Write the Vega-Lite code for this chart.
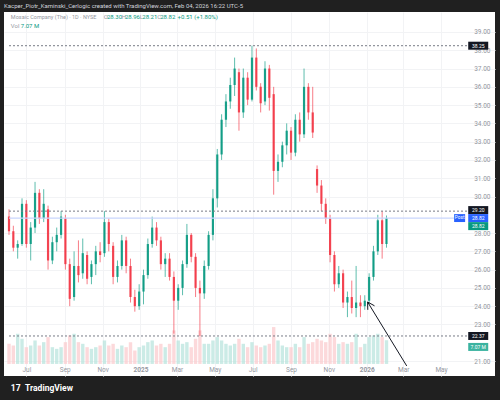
{
  "$schema": "https://vega.github.io/schema/vega-lite/v6.json",
  "width": 491,
  "height": 364,
  "autosize": {"type": "none"},
  "padding": {"left": 4, "top": 12, "right": 5, "bottom": 24},
  "background": "#202020",
  "config": {"view": {"fill": "#ffffff", "stroke": null}, "font": "Roboto", "axis": {"labelOverlap": false, "labelSeparation": 0}},
  "title": {"text": "Kacper_Piotr_Kaminski_Cerlogic created with TradingView.com, Feb 04, 2026 16:22 UTC-5", "anchor": "start", "frame": "group", "fontSize": 6, "fontWeight": "normal", "color": "#d1d4dc", "offset": 3, "font": "Roboto"},
  "datasets": {
    "ohlc": [
      {"d": "2024-06-03", "o": 28.9, "h": 29.3, "l": 27.9, "c": 28.1, "v": 6},
      {"d": "2024-06-10", "o": 28.1, "h": 28.4, "l": 27.0, "c": 27.2, "v": 5.5},
      {"d": "2024-06-17", "o": 27.2, "h": 27.6, "l": 26.6, "c": 27.4, "v": 9},
      {"d": "2024-06-24", "o": 27.4, "h": 29.9, "l": 27.3, "c": 29.6, "v": 7.5},
      {"d": "2024-07-01", "o": 29.6, "h": 29.8, "l": 27.2, "c": 27.4, "v": 5},
      {"d": "2024-07-08", "o": 27.4, "h": 28.6, "l": 26.5, "c": 28.3, "v": 5.5},
      {"d": "2024-07-15", "o": 28.3, "h": 30.8, "l": 28.0, "c": 30.2, "v": 7},
      {"d": "2024-07-22", "o": 30.2, "h": 30.4, "l": 28.5, "c": 28.8, "v": 5.5},
      {"d": "2024-07-29", "o": 28.8, "h": 30.4, "l": 28.6, "c": 29.6, "v": 6.5},
      {"d": "2024-08-05", "o": 29.3, "h": 29.5, "l": 26.0, "c": 26.5, "v": 8},
      {"d": "2024-08-12", "o": 26.5, "h": 27.8, "l": 26.3, "c": 27.5, "v": 5},
      {"d": "2024-08-19", "o": 27.5, "h": 28.3, "l": 27.0, "c": 27.9, "v": 4.5},
      {"d": "2024-08-26", "o": 27.9, "h": 29.2, "l": 27.7, "c": 28.9, "v": 5},
      {"d": "2024-09-02", "o": 28.8, "h": 29.0, "l": 26.0, "c": 26.3, "v": 6.5},
      {"d": "2024-09-09", "o": 26.3, "h": 26.6, "l": 24.0, "c": 24.4, "v": 8.5},
      {"d": "2024-09-16", "o": 24.5, "h": 27.0, "l": 24.3, "c": 26.2, "v": 9},
      {"d": "2024-09-23", "o": 26.2, "h": 27.6, "l": 25.3, "c": 25.7, "v": 6.5},
      {"d": "2024-09-30", "o": 25.8, "h": 27.7, "l": 25.5, "c": 26.9, "v": 6},
      {"d": "2024-10-07", "o": 26.8, "h": 27.0, "l": 25.2, "c": 25.5, "v": 5},
      {"d": "2024-10-14", "o": 25.6, "h": 26.5, "l": 25.2, "c": 26.3, "v": 4.5},
      {"d": "2024-10-21", "o": 26.3, "h": 27.3, "l": 25.7, "c": 27.0, "v": 5},
      {"d": "2024-10-28", "o": 27.0, "h": 27.5, "l": 26.4, "c": 26.8, "v": 5.5},
      {"d": "2024-11-04", "o": 26.9, "h": 29.2, "l": 26.7, "c": 28.6, "v": 7},
      {"d": "2024-11-11", "o": 28.6, "h": 28.8, "l": 27.0, "c": 27.4, "v": 5.5},
      {"d": "2024-11-18", "o": 27.3, "h": 27.5, "l": 25.2, "c": 25.6, "v": 6},
      {"d": "2024-11-25", "o": 25.6, "h": 26.5, "l": 25.3, "c": 26.2, "v": 4.5},
      {"d": "2024-12-02", "o": 26.2, "h": 27.9, "l": 26.0, "c": 27.6, "v": 5.5},
      {"d": "2024-12-09", "o": 27.6, "h": 27.8, "l": 25.8, "c": 26.2, "v": 5},
      {"d": "2024-12-16", "o": 26.2, "h": 26.6, "l": 24.2, "c": 24.5, "v": 6.5},
      {"d": "2024-12-23", "o": 24.5, "h": 24.9, "l": 23.7, "c": 24.0, "v": 4},
      {"d": "2024-12-30", "o": 24.0, "h": 25.2, "l": 23.8, "c": 24.8, "v": 5},
      {"d": "2025-01-06", "o": 24.8, "h": 26.0, "l": 24.1, "c": 25.7, "v": 5.5},
      {"d": "2025-01-13", "o": 25.7, "h": 27.7, "l": 25.5, "c": 27.4, "v": 6.5},
      {"d": "2025-01-20", "o": 27.4, "h": 28.9, "l": 27.2, "c": 28.3, "v": 7},
      {"d": "2025-01-27", "o": 28.3, "h": 28.6, "l": 27.3, "c": 27.6, "v": 5.5},
      {"d": "2025-02-03", "o": 27.6, "h": 27.8, "l": 26.0, "c": 26.3, "v": 6},
      {"d": "2025-02-10", "o": 26.3, "h": 26.9, "l": 25.6, "c": 26.6, "v": 5},
      {"d": "2025-02-17", "o": 26.6, "h": 26.9, "l": 25.4, "c": 25.6, "v": 6},
      {"d": "2025-02-24", "o": 25.6, "h": 25.9, "l": 22.5, "c": 24.3, "v": 10},
      {"d": "2025-03-03", "o": 24.3, "h": 25.2, "l": 23.8, "c": 25.0, "v": 7},
      {"d": "2025-03-10", "o": 25.0, "h": 26.5, "l": 24.6, "c": 26.3, "v": 6},
      {"d": "2025-03-17", "o": 26.3, "h": 28.5, "l": 26.1, "c": 27.9, "v": 6.5},
      {"d": "2025-03-24", "o": 27.9, "h": 28.0, "l": 26.4, "c": 26.7, "v": 5},
      {"d": "2025-03-31", "o": 26.7, "h": 26.9, "l": 24.5, "c": 25.0, "v": 7.5},
      {"d": "2025-04-07", "o": 25.0, "h": 25.4, "l": 22.37, "c": 24.7, "v": 10},
      {"d": "2025-04-14", "o": 24.7, "h": 26.5, "l": 24.4, "c": 26.2, "v": 6},
      {"d": "2025-04-21", "o": 26.2, "h": 28.1, "l": 26.0, "c": 27.9, "v": 6},
      {"d": "2025-04-28", "o": 27.9, "h": 30.4, "l": 27.6, "c": 29.9, "v": 7},
      {"d": "2025-05-05", "o": 29.9, "h": 32.6, "l": 29.4, "c": 32.3, "v": 8},
      {"d": "2025-05-12", "o": 32.3, "h": 34.5, "l": 32.0, "c": 34.2, "v": 7},
      {"d": "2025-05-19", "o": 34.2, "h": 35.6, "l": 33.8, "c": 35.2, "v": 6},
      {"d": "2025-05-26", "o": 35.2, "h": 36.5, "l": 34.8, "c": 36.1, "v": 5.5},
      {"d": "2025-06-02", "o": 36.1, "h": 37.6, "l": 35.5, "c": 37.0, "v": 6},
      {"d": "2025-06-09", "o": 36.8, "h": 37.0, "l": 33.6, "c": 34.6, "v": 7.5},
      {"d": "2025-06-16", "o": 34.6, "h": 37.0, "l": 34.3, "c": 36.5, "v": 6},
      {"d": "2025-06-23", "o": 36.5, "h": 36.8, "l": 35.0, "c": 35.3, "v": 5},
      {"d": "2025-06-30", "o": 35.3, "h": 38.25, "l": 35.2, "c": 37.6, "v": 6.5},
      {"d": "2025-07-07", "o": 37.6, "h": 38.1, "l": 35.8, "c": 36.0, "v": 5.5},
      {"d": "2025-07-14", "o": 36.0, "h": 36.2, "l": 34.6, "c": 35.1, "v": 5},
      {"d": "2025-07-21", "o": 35.2, "h": 37.4, "l": 35.0, "c": 37.0, "v": 5.5},
      {"d": "2025-07-28", "o": 37.0, "h": 37.2, "l": 34.7, "c": 35.4, "v": 6},
      {"d": "2025-08-04", "o": 35.6, "h": 36.0, "l": 30.1, "c": 31.4, "v": 11},
      {"d": "2025-08-11", "o": 31.4, "h": 32.3, "l": 30.8, "c": 31.9, "v": 7},
      {"d": "2025-08-18", "o": 31.9, "h": 33.0, "l": 31.6, "c": 32.8, "v": 5.5},
      {"d": "2025-08-25", "o": 32.8, "h": 34.0, "l": 32.3, "c": 33.6, "v": 5},
      {"d": "2025-09-01", "o": 33.6, "h": 33.8, "l": 32.0, "c": 32.4, "v": 5},
      {"d": "2025-09-08", "o": 32.4, "h": 34.5, "l": 32.2, "c": 34.2, "v": 6},
      {"d": "2025-09-15", "o": 34.2, "h": 34.6, "l": 33.0, "c": 33.4, "v": 5},
      {"d": "2025-09-22", "o": 33.4, "h": 37.0, "l": 33.2, "c": 36.0, "v": 8},
      {"d": "2025-09-29", "o": 36.0, "h": 36.2, "l": 34.2, "c": 34.6, "v": 6},
      {"d": "2025-10-06", "o": 34.6, "h": 36.0, "l": 33.2, "c": 33.5, "v": 6.5},
      {"d": "2025-10-13", "o": 31.5, "h": 31.7, "l": 30.2, "c": 30.6, "v": 7.5},
      {"d": "2025-10-20", "o": 30.6, "h": 30.9, "l": 29.2, "c": 29.6, "v": 7},
      {"d": "2025-10-27", "o": 29.6, "h": 29.9, "l": 28.5, "c": 28.8, "v": 6.5},
      {"d": "2025-11-03", "o": 28.8, "h": 29.0, "l": 26.4, "c": 26.8, "v": 9},
      {"d": "2025-11-10", "o": 26.8, "h": 27.0, "l": 24.8, "c": 25.2, "v": 8},
      {"d": "2025-11-17", "o": 25.2, "h": 26.2, "l": 25.0, "c": 25.8, "v": 6},
      {"d": "2025-11-24", "o": 25.8, "h": 26.0, "l": 23.9, "c": 24.2, "v": 6.5},
      {"d": "2025-12-01", "o": 24.2, "h": 24.8, "l": 23.4, "c": 24.5, "v": 6},
      {"d": "2025-12-08", "o": 24.5, "h": 25.4, "l": 23.6, "c": 23.9, "v": 6.5},
      {"d": "2025-12-15", "o": 23.9, "h": 26.2, "l": 23.4, "c": 24.2, "v": 9},
      {"d": "2025-12-22", "o": 24.2, "h": 24.6, "l": 23.4, "c": 24.0, "v": 5},
      {"d": "2025-12-29", "o": 24.0, "h": 24.6, "l": 23.8, "c": 24.3, "v": 6},
      {"d": "2026-01-05", "o": 24.3, "h": 25.8, "l": 24.1, "c": 25.6, "v": 8},
      {"d": "2026-01-12", "o": 25.6, "h": 27.3, "l": 25.4, "c": 27.0, "v": 8.5},
      {"d": "2026-01-19", "o": 27.0, "h": 29.0, "l": 26.8, "c": 28.7, "v": 9},
      {"d": "2026-01-26", "o": 28.7, "h": 29.2, "l": 26.6, "c": 27.4, "v": 8},
      {"d": "2026-02-02", "o": 27.4, "h": 28.96, "l": 27.2, "c": 28.82, "v": 7.07}
    ],
    "levels": [{"p": 38.25}, {"p": 29.2}, {"p": 22.37}],
    "arrow": [
      {"d": "2026-01-02T12:00:00Z", "p": 24.23, "d2": "2026-03-06T16:00:00Z", "p2": 20.73},
      {"d": "2026-01-02T12:00:00Z", "p": 24.23, "d2": "2026-01-02T20:00:00Z", "p2": 23.8},
      {"d": "2026-01-02T12:00:00Z", "p": 24.23, "d2": "2026-01-13T16:00:00Z", "p2": 24.02}
    ],
    "tags": [
      {"t": "38.25", "p": 38.25, "k": "black"},
      {"t": "29.20", "p": 29.257, "k": "black"},
      {"t": "28.82", "p": 28.82, "k": "blue"},
      {"t": "28.82", "p": 28.38, "k": "teal"},
      {"t": "22.37", "p": 22.37, "k": "black"},
      {"t": "7.07 M", "p": 21.77, "k": "vol"}
    ],
    "hdr": [
      {"t": "O", "d": "2024-11-03", "p": 39.82, "k": "g"},
      {"t": "28.30", "d": "2024-11-08", "p": 39.82, "k": "t"},
      {"t": "H", "d": "2024-12-02", "p": 39.82, "k": "g"},
      {"t": "28.96", "d": "2024-12-07", "p": 39.82, "k": "t"},
      {"t": "L", "d": "2024-12-31", "p": 39.82, "k": "g"},
      {"t": "28.21", "d": "2025-01-04", "p": 39.82, "k": "t"},
      {"t": "C", "d": "2025-01-28", "p": 39.82, "k": "g"},
      {"t": "28.82", "d": "2025-02-02", "p": 39.82, "k": "t"},
      {"t": "+0.51 (+1.80%)", "d": "2025-03-02", "p": 39.82, "k": "t"},
      {"t": "Vol", "d": "2024-06-06", "p": 39.33, "k": "g"},
      {"t": "7.07 M", "d": "2024-06-22", "p": 39.33, "k": "t"}
    ],
    "name": [
      {"t": "Mosaic Company (The) · 1D · NYSE", "d": "2024-06-06", "p": 39.82}
    ],
    "logo": [
      {"t": "17", "d": "2024-06-06", "p": 19.52},
      {"t": "TradingView", "d": "2024-06-29", "p": 19.52}
    ]
  },
  "layer": [
    {
      "data": {"name": "ohlc"},
      "mark": {"type": "bar", "size": 3.4, "opacity": 0.7},
      "encoding": {
        "x": {"field": "d", "type": "temporal"},
        "y": {"field": "v", "type": "quantitative", "scale": {"domain": [-3.6, 105], "nice": false, "zero": false}, "axis": null},
        "y2": {"datum": 0},
        "color": {"condition": {"test": "datum.c >= datum.o", "value": "#b5e2db"}, "value": "#fbc9cc"}
      }
    },
    {
      "layer": [
        {
          "data": {"name": "ohlc"},
          "mark": {"type": "rule", "strokeWidth": 1, "opacity": 0.65},
          "encoding": {
            "x": {"field": "d", "type": "temporal", "scale": {"type": "utc", "domain": [{"year": 2024, "month": 6, "date": 3, "utc": true}, {"year": 2026, "month": 7, "date": 19, "utc": true}]},
              "axis": {
                "title": null,
                "values": [
                  {"year": 2024, "month": 7, "date": 1, "utc": true},
                  {"year": 2024, "month": 9, "date": 1, "utc": true},
                  {"year": 2024, "month": 11, "date": 1, "utc": true},
                  {"year": 2025, "month": 1, "date": 1, "utc": true},
                  {"year": 2025, "month": 3, "date": 1, "utc": true},
                  {"year": 2025, "month": 5, "date": 1, "utc": true},
                  {"year": 2025, "month": 7, "date": 1, "utc": true},
                  {"year": 2025, "month": 9, "date": 1, "utc": true},
                  {"year": 2025, "month": 11, "date": 1, "utc": true},
                  {"year": 2026, "month": 1, "date": 1, "utc": true},
                  {"year": 2026, "month": 3, "date": 1, "utc": true},
                  {"year": 2026, "month": 5, "date": 1, "utc": true}
                ],
                "labelExpr": "utcmonth(datum.value) == 0 ? utcFormat(datum.value, '%Y') : utcFormat(datum.value, '%b')",
                "labelPadding": -10,
                "labelFontSize": 6.5,
                "labelColor": "#9598a1",
                "labelFontWeight": {"condition": {"test": "utcmonth(datum.value) == 0", "value": "bold"}, "value": "normal"},
                "labelFlush": false,
                "labelOverlap": false,
                "ticks": false,
                "tickSize": 0,
                "domain": false,
                "grid": true,
                "gridColor": "#f2f3f5"
              }
            },
            "y": {"field": "l", "type": "quantitative", "scale": {"domain": [20.18, 40.094], "nice": false, "zero": false},
              "axis": {
                "orient": "right",
                "title": null,
                "values": [21, 23, 24, 25, 26, 27, 28, 30, 31, 32, 33, 34, 35, 36, 37, 38, 39],
                "tickCount": 19,
                "format": ".2f",
                "labelAlign": "right",
                "labelBaseline": "middle",
                "labelPadding": -5,
                "labelFontSize": 6.5,
                "labelColor": "#9598a1",
                "labelOverlap": false,
                "labelSeparation": 0,
                "labelFlush": false,
                "ticks": false,
                "tickSize": 0,
                "domain": false,
                "grid": true,
                "gridColor": "#f2f3f5"
              }
            },
            "y2": {"field": "h"},
            "color": {"condition": {"test": "datum.c >= datum.o", "value": "#089981"}, "value": "#F23645"}
          }
        },
        {
          "data": {"name": "ohlc"},
          "mark": {"type": "bar", "size": 2.2, "opacity": 0.9},
          "encoding": {
            "x": {"field": "d", "type": "temporal"},
            "y": {"field": "o", "type": "quantitative"},
            "y2": {"field": "c"},
            "color": {"condition": {"test": "datum.c >= datum.o", "value": "#089981"}, "value": "#F23645"}
          }
        },
        {
          "data": {"name": "levels"},
          "mark": {"type": "rule", "color": "#787b86", "strokeWidth": 1, "strokeDash": [2, 2]},
          "encoding": {
            "x": {"datum": {"year": 2024, "month": 6, "date": 3, "utc": true}, "type": "temporal"},
            "x2": {"datum": {"year": 2026, "month": 6, "date": 12, "utc": true}},
            "y": {"field": "p", "type": "quantitative"}
          }
        },
        {
          "data": {"values": [{"p": 28.82}]},
          "mark": {"type": "rule", "color": "#c9d6fd", "strokeWidth": 1.2},
          "encoding": {
            "x": {"datum": {"year": 2024, "month": 6, "date": 3, "utc": true}, "type": "temporal"},
            "x2": {"datum": {"year": 2026, "month": 5, "date": 23, "utc": true}},
            "y": {"field": "p", "type": "quantitative"}
          }
        },
        {
          "data": {"name": "arrow"},
          "mark": {"type": "rule", "color": "#131722", "strokeWidth": 1},
          "encoding": {
            "x": {"field": "d", "type": "temporal"},
            "x2": {"field": "d2"},
            "y": {"field": "p", "type": "quantitative"},
            "y2": {"field": "p2"}
          }
        },
        {
          "data": {"name": "tags"},
          "transform": [{"filter": "datum.k == 'blue'"}],
          "mark": {"type": "point", "shape": "M-1,-0.72L1,-0.72L1,0.72L-1,0.72Z", "filled": true, "opacity": 1, "size": 121, "color": "#2962ff"},
          "encoding": {
            "x": {"datum": {"year": 2026, "month": 5, "date": 31, "utc": true}, "type": "temporal"},
            "y": {"field": "p", "type": "quantitative"}
          }
        },
        {
          "data": {"name": "tags"},
          "transform": [{"filter": "datum.k == 'blue'"}],
          "mark": {"type": "text", "color": "#ffffff", "fontSize": 4.8, "font": "Roboto", "baseline": "middle", "align": "center"},
          "encoding": {
            "x": {"datum": {"year": 2026, "month": 5, "date": 31, "utc": true}, "type": "temporal"},
            "y": {"field": "p", "type": "quantitative"},
            "text": {"value": "Post"}
          }
        },
        {
          "data": {"name": "tags"},
          "mark": {"type": "point", "shape": "M-1,-0.4L1,-0.4L1,0.4L-1,0.4Z", "filled": true, "opacity": 1, "size": 400},
          "encoding": {
            "x": {"datum": {"year": 2026, "month": 6, "date": 30, "utc": true}, "type": "temporal"},
            "y": {"field": "p", "type": "quantitative"},
            "color": {"field": "k", "type": "nominal", "scale": {"domain": ["black", "blue", "teal", "vol"], "range": ["#131722", "#2962ff", "#089981", "#3bb3a0"]}, "legend": null}
          }
        },
        {
          "data": {"name": "tags"},
          "mark": {"type": "text", "color": "#ffffff", "fontSize": 5, "font": "Roboto", "baseline": "middle", "align": "center"},
          "encoding": {
            "x": {"datum": {"year": 2026, "month": 6, "date": 30, "utc": true}, "type": "temporal"},
            "y": {"field": "p", "type": "quantitative"},
            "text": {"field": "t"}
          }
        },
        {
          "data": {"name": "name"},
          "mark": {"type": "text", "fontSize": 5.5, "font": "Roboto", "baseline": "middle", "align": "left", "color": "#9598a1"},
          "encoding": {
            "x": {"field": "d", "type": "temporal"},
            "y": {"field": "p", "type": "quantitative"},
            "text": {"field": "t"}
          }
        },
        {
          "data": {"name": "hdr"},
          "mark": {"type": "text", "fontSize": 6, "font": "Roboto", "baseline": "middle", "align": "left"},
          "encoding": {
            "x": {"field": "d", "type": "temporal"},
            "y": {"field": "p", "type": "quantitative"},
            "text": {"field": "t"},
            "color": {"condition": {"test": "datum.k == 't'", "value": "#089981"}, "value": "#9598a1"}
          }
        },
        {
          "data": {"name": "logo"},
          "mark": {"type": "text", "fontSize": 8.5, "fontWeight": "bold", "font": "Roboto", "baseline": "middle", "align": "left", "color": "#ffffff"},
          "encoding": {
            "x": {"field": "d", "type": "temporal"},
            "y": {"field": "p", "type": "quantitative"},
            "text": {"field": "t"}
          }
        }
      ]
    }
  ],
  "resolve": {"scale": {"y": "independent"}}
}
